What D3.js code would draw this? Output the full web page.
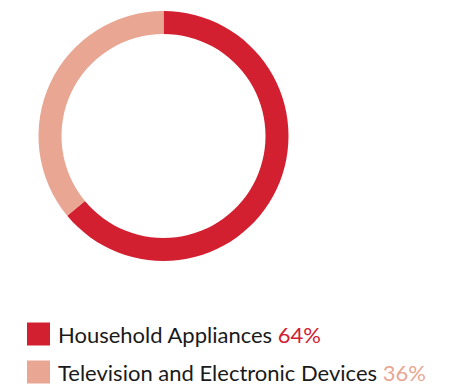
<!DOCTYPE html>
<html>
<head>
<meta charset="utf-8">
<script src="https://cdn.jsdelivr.net/npm/d3@7"></script>
<style>
  html, body { margin: 0; padding: 0; background: #fff; }
  svg { display: block; }
</style>
</head>
<body>
<svg id="chart" width="455" height="386"></svg>
<script>
// Revenue share by segment
const categories = ["Household Appliances", "Television and Electronic Devices"];
const shares = [64, 36];
const colors = ["#D22031", "#E9A693"];

const svg = d3.select("#chart");
const cx = 163.5, cy = 136, outerR = 125, innerR = 102;

const pie = d3.pie().sort(null).value(d => d)(shares);
const arc = d3.arc().innerRadius(innerR).outerRadius(outerR);

svg.append("g")
  .attr("transform", `translate(${cx},${cy})`)
  .selectAll("path")
  .data(pie)
  .join("path")
  .attr("d", arc)
  .attr("fill", (d, i) => colors[i]);

// Legend
const legend = svg.append("g");
const rowY = d3.scalePoint().domain(categories).range([322.5, 360.5]);
const row = legend.selectAll("g")
  .data(categories)
  .join("g")
  .attr("transform", d => `translate(27,${rowY(d)})`);

row.append("rect")
  .attr("width", 23).attr("height", 23)
  .attr("fill", (d, i) => colors[i]);

const txt = row.append("text")
  .attr("x", 31).attr("y", 20.5)
  .attr("font-family", "Lato, 'Open Sans', sans-serif")
  .attr("font-size", 22)
  .attr("fill", "#1a1a1a");
txt.append("tspan").text(d => d + " ");
txt.append("tspan").attr("fill", (d, i) => colors[i]).text((d, i) => shares[i] + "%");
</script>
</body>
</html>
